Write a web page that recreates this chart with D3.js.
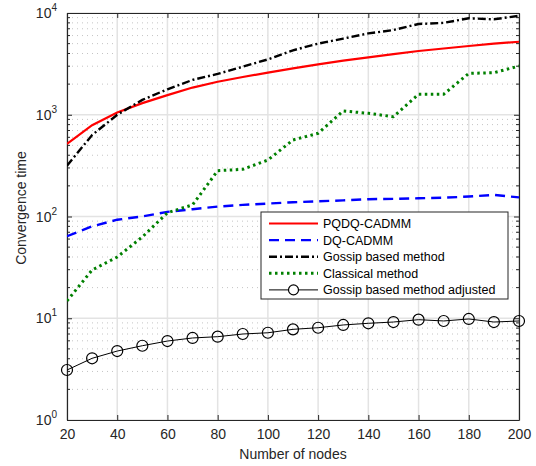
<!DOCTYPE html>
<html><head><meta charset="utf-8">
<script src="https://cdn.jsdelivr.net/npm/d3@7"></script>
<style>body{margin:0;background:#fff}svg{display:block;font-family:"Liberation Sans",Arial,sans-serif}</style>
</head><body>
<svg id="c" width="536" height="466"></svg>
<script>
const nodes = [20,30,40,50,60,70,80,90,100,110,120,130,140,150,160,170,180,190,200];
const pqdq = [517,790,1050,1300,1560,1850,2110,2350,2590,2860,3130,3400,3660,3950,4230,4480,4740,4990,5220];
const dq = [64,80,93,100,111,118,125,130,134,138,141,144,148,149,151,153,157,163,154];
const gossip = [316,632,1000,1400,1780,2200,2520,2970,3500,4300,5000,5600,6300,6800,7800,8000,8870,8670,9400];
const classical = [14.8,29.8,40,63,109,130,282,291,359,565,657,1089,1033,957,1590,1590,2550,2590,3010];
const adjusted = [3.1,4.04,4.76,5.37,5.97,6.4,6.59,7.0,7.2,7.78,8.07,8.59,8.92,9.18,9.68,9.4,9.84,9.18,9.4];
const xTicks = [20,40,60,80,100,120,140,160,180,200];
const yTicks = [1,10,100,1000,10000];
const seriesNames = ["PQDQ-CADMM","DQ-CADMM","Gossip based method","Classical method","Gossip based method adjusted"];

const svg = d3.select("#c");
const L=67,R=519,T=13,B=420;
const x = d3.scaleLinear().domain([20,200]).range([L,R]);
const y = d3.scaleLog().domain([1,10000]).range([B,T]);

// minor grid
const minors=[];
for(let e=0;e<4;e++) for(let m=2;m<=9;m++) minors.push(m*Math.pow(10,e));
const g = svg.append("g");
g.selectAll(".mg").data(minors).enter().append("line")
 .attr("x1",L).attr("x2",R).attr("y1",d=>y(d)).attr("y2",d=>y(d))
 .attr("stroke","#c4c4c4").attr("stroke-width",1).attr("stroke-dasharray","1,4");
g.selectAll(".yg").data(yTicks).enter().append("line")
 .attr("x1",L).attr("x2",R).attr("y1",d=>y(d)).attr("y2",d=>y(d))
 .attr("stroke","#e3e3e3").attr("stroke-width",1.5);
g.selectAll(".xg").data(xTicks).enter().append("line")
 .attr("y1",T).attr("y2",B).attr("x1",d=>x(d)).attr("x2",d=>x(d))
 .attr("stroke","#e3e3e3").attr("stroke-width",1.5);

// axes
const xAxis = svg.append("g").attr("transform",`translate(0,${B})`)
 .call(d3.axisBottom(x).tickValues(xTicks).tickSize(-5).tickPadding(9).tickSizeOuter(0));
const xAxisTop = svg.append("g").attr("transform",`translate(0,${T})`)
 .call(d3.axisTop(x).tickValues(xTicks).tickSize(-5).tickFormat("").tickSizeOuter(0));
const yAxis = svg.append("g").attr("transform",`translate(${L},0)`)
 .call(d3.axisLeft(y).tickValues(yTicks).tickSize(-5).tickPadding(6).tickFormat("").tickSizeOuter(0));
const yAxisR = svg.append("g").attr("transform",`translate(${R},0)`)
 .call(d3.axisRight(y).tickValues(yTicks).tickSize(-5).tickFormat("").tickSizeOuter(0));
[yAxis,yAxisR].forEach((a,i)=>{
  a.selectAll(".minor").data(minors).enter().append("line")
   .attr("x1",0).attr("x2",i===0?3:-3).attr("y1",d=>y(d)).attr("y2",d=>y(d))
   .attr("stroke","#262626").attr("stroke-width",1);
});
[xAxis,xAxisTop,yAxis,yAxisR].forEach(a=>{
  a.select(".domain").attr("stroke","#262626").attr("stroke-width",1.2);
  a.selectAll(".tick line").attr("stroke","#262626").attr("stroke-width",1);
});
xAxis.selectAll("text").attr("font-size",14).attr("fill","#262626").attr("font-family","Liberation Sans, Arial, sans-serif");
// y tick labels with superscripts
const yl = svg.append("g");
yTicks.forEach(v=>{
  const e = Math.round(Math.log10(v));
  const t = yl.append("text").attr("x",L-10).attr("y",y(v)+5).attr("text-anchor","end")
   .attr("font-size",14).attr("fill","#262626");
  t.append("tspan").text("10");
  t.append("tspan").attr("dy",-7).attr("font-size",10).text(String(e));
});
svg.append("text").attr("x",(L+R)/2).attr("y",459).attr("text-anchor","middle")
 .attr("font-size",14).attr("fill","#262626").text("Number of nodes");
svg.append("text").attr("transform",`translate(26,208) rotate(-90)`).attr("text-anchor","middle")
 .attr("font-size",14).attr("fill","#262626").text("Convergence time");

// series
const clipId="clip";
svg.append("clipPath").attr("id",clipId).append("rect").attr("x",L).attr("y",T).attr("width",R-L).attr("height",B-T);
const line = d3.line().x((d,i)=>x(nodes[i])).y(d=>y(d));
const styles = [
 {data:pqdq,color:"#ff0000",w:2.2,dash:null},
 {data:dq,color:"#0000ff",w:2.4,dash:"10,6"},
 {data:gossip,color:"#000000",w:2.4,dash:"8,3,2,3"},
 {data:classical,color:"#008000",w:3,dash:"2.5,3.5"},
 {data:adjusted,color:"#000000",w:1,dash:null,marker:true}
];
const pl = svg.append("g").attr("clip-path",`url(#${clipId})`);
styles.forEach(s=>{
  pl.append("path").attr("d",line(s.data)).attr("fill","none").attr("stroke",s.color)
   .attr("stroke-width",s.w).attr("stroke-dasharray",s.dash);
});
svg.append("g").selectAll("circle").data(adjusted).enter().append("circle")
 .attr("cx",(d,i)=>x(nodes[i])).attr("cy",d=>y(d)).attr("r",5.5)
 .attr("fill","none").attr("stroke","#000").attr("stroke-width",1.2);

// legend
const lg = svg.append("g");
lg.append("rect").attr("x",261).attr("y",212).attr("width",247).attr("height",87)
 .attr("fill","#fff").attr("stroke","#262626").attr("stroke-width",1);
styles.forEach((s,i)=>{
  const yy = 223.5 + i*16.6;
  lg.append("line").attr("x1",269).attr("x2",318).attr("y1",yy).attr("y2",yy)
   .attr("stroke",s.color).attr("stroke-width",s.w).attr("stroke-dasharray",s.dash);
  if(s.marker) lg.append("circle").attr("cx",293.5).attr("cy",yy).attr("r",5).attr("fill","#fff").attr("stroke","#000").attr("stroke-width",1.2);
  lg.append("text").attr("x",323).attr("y",yy+4.5).attr("font-size",12.5).attr("fill","#000").text(seriesNames[i]);
});
</script>
</body></html>
